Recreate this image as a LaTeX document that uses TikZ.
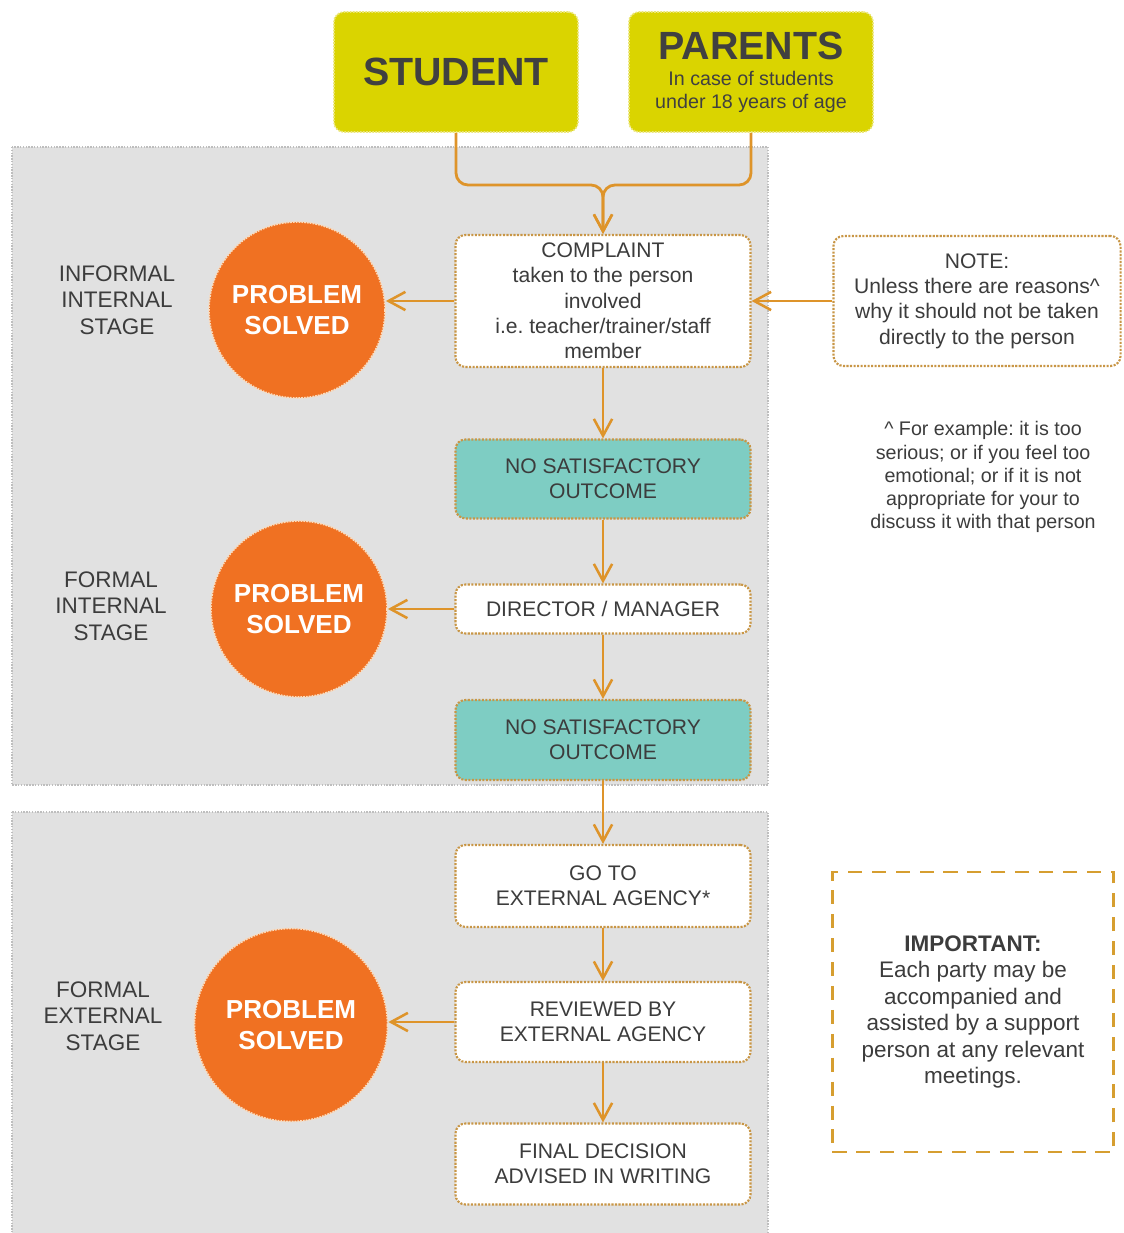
\documentclass[tikz,border=0pt]{standalone}
\usepackage{fontspec}
\setmainfont{Liberation Sans}
\usetikzlibrary{arrows.meta}
\frenchspacing
\definecolor{txt}{RGB}{60,60,60}
\definecolor{toptxt}{RGB}{64,64,64}
\definecolor{arrowc}{RGB}{222,148,42}
\definecolor{boxline}{RGB}{200,150,70}
\definecolor{yel}{RGB}{218,212,0}
\definecolor{yelline}{RGB}{235,230,120}
\definecolor{circ}{RGB}{240,113,34}
\definecolor{circline}{RGB}{250,220,190}
\definecolor{teal}{RGB}{126,205,195}
\definecolor{panel}{RGB}{225,225,225}
\definecolor{panelline}{RGB}{190,190,190}
\definecolor{impline}{RGB}{214,158,48}
\tikzset{
  panelbox/.style={fill=panel, draw=panelline, line width=1pt, dash pattern=on 1pt off 1pt},
  flowbox/.style={draw=boxline, fill=white, line width=1.5pt, dash pattern=on 1.5pt off 1pt,
    rounded corners=0.25cm, minimum width=7.375cm, inner sep=0pt, align=center, text=txt,
    font=\fontsize{15}{18}\selectfont},
  tealbox/.style={flowbox, fill=teal},
  topbox/.style={fill=yel, draw=yelline, line width=1.2pt, dash pattern=on 1.2pt off 1pt,
    rounded corners=0.25cm, minimum width=6.1cm, minimum height=3cm, inner sep=0pt,
    align=center, text=toptxt},
  solved/.style={circle, fill=circ, draw=circline, line width=1.2pt,
    dash pattern=on 1.2pt off 0.8pt, inner sep=0pt, text=white, align=center,
    font=\bfseries\fontsize{18.5}{22}\selectfont},
  stagelbl/.style={align=center, text=txt, font=\fontsize{16}{19}\selectfont},
  arr/.style={draw=arrowc, line width=2pt, -{Straight Barb[length=12pt,width=13pt,line width=1.8pt]}}
}
\begin{document}
\begin{tikzpicture}[x=0.025cm, y=-0.025cm]
\useasboundingbox (0,0) rectangle (1123,1233);
% panels
\path[panelbox] (12,147) rectangle (768,785);
\path[panelbox] (12,812) rectangle (768,1245);

% top boxes
\node[topbox, font=\bfseries\fontsize{28}{32}\selectfont] (student) at (456,72) {STUDENT};
\node[topbox, font=\fontsize{14}{16.5}\selectfont] (parents) at (751,72)
  {\bfseries\fontsize{28}{28}\selectfont PARENTS\\[2pt]\mdseries\fontsize{14}{16.5}\selectfont In case of students\\under 18 years of age};

% flow boxes
\node[flowbox, minimum height=3.3cm] (complaint) at (603,301)
  {COMPLAINT\\taken to the person\\involved\\i.e. teacher/trainer/staff\\member};
\node[tealbox, minimum height=1.975cm] (nso1) at (603,479) {NO SATISFACTORY\\OUTCOME};
\node[flowbox, minimum height=1.225cm] (director) at (603,609) {DIRECTOR / MANAGER};
\node[tealbox, minimum height=2cm] (nso2) at (603,740) {NO SATISFACTORY\\OUTCOME};
\node[flowbox, minimum height=2.05cm] (goto) at (603,886) {GO TO\\EXTERNAL AGENCY*};
\node[flowbox, minimum height=2cm] (reviewed) at (603,1022) {REVIEWED BY\\EXTERNAL AGENCY};
\node[flowbox, minimum height=2.025cm] (final) at (603,1164) {FINAL DECISION\\ADVISED IN WRITING};

% note
\node[flowbox, minimum width=7.175cm, minimum height=3.25cm] (note) at (977,301)
  {NOTE:\\Unless there are reasons\textasciicircum\\why it should not be taken\\directly to the person};
\node[align=center, text=txt, font=\fontsize{14}{16.4}\selectfont] (foot) at (983,477)
  {\textasciicircum\ For example: it is too\\serious; or if you feel too\\emotional; or if it is not\\appropriate for your to\\discuss it with that person};

% important
\node[draw=impline, line width=2pt, dash pattern=on 10pt off 7pt, minimum width=7.025cm,
  minimum height=7cm, align=center, text=txt, font=\fontsize{16}{18.8}\selectfont] (important) at (973,1012)
  {\textbf{IMPORTANT:}\\Each party may be\\accompanied and\\assisted by a support\\person at any relevant\\meetings.};

% circles
\node[solved, minimum size=4.4cm] (c1) at (297,310) {PROBLEM\\SOLVED};
\node[solved, minimum size=4.4cm] (c2) at (299,609) {PROBLEM\\SOLVED};
\node[solved, minimum size=4.825cm] (c3) at (291,1025) {PROBLEM\\SOLVED};

% stage labels
\node[stagelbl] (s1) at (117,300) {INFORMAL\\INTERNAL\\STAGE};
\node[stagelbl] (s2) at (111,606) {FORMAL\\INTERNAL\\STAGE};
\node[stagelbl] (s3) at (103,1016) {FORMAL\\EXTERNAL\\STAGE};

% connectors
\coordinate (merge) at (603,185);
\draw[arr, rounded corners=0.3cm] (student.south) |- (merge) -- (complaint.north);
\draw[arr, rounded corners=0.3cm] (parents.south) |- (merge) -- (complaint.north);
\draw[arr] (note.west) -- (complaint.east);
\draw[arr] (complaint.west) -- (complaint.west -| c1.east);
\draw[arr] (complaint.south) -- (nso1.north);
\draw[arr] (nso1.south) -- (director.north);
\draw[arr] (director.west) -- (director.west -| c2.east);
\draw[arr] (director.south) -- (nso2.north);
\draw[arr] (nso2.south) -- (goto.north);
\draw[arr] (goto.south) -- (reviewed.north);
\draw[arr] (reviewed.west) -- (reviewed.west -| c3.east);
\draw[arr] (reviewed.south) -- (final.north);
\end{tikzpicture}
\end{document}
